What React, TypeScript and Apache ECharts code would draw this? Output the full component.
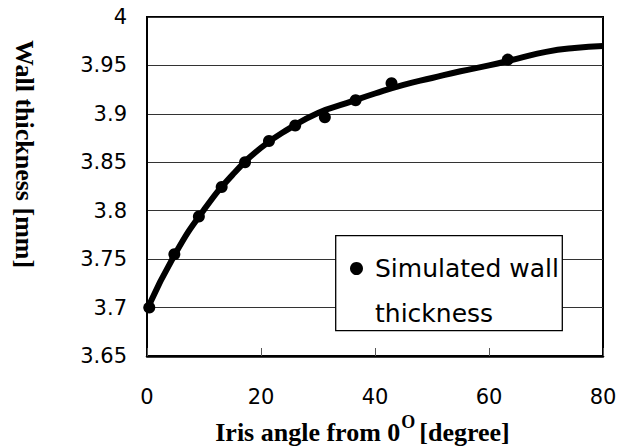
import React, { useEffect, useRef } from "react";
import * as echarts from "echarts";

// Simulated points (iris angle in degrees, wall thickness in mm)
const simAngles = [0.4, 4.8, 9.1, 13.1, 17.2, 21.4, 26.0, 31.2, 36.6, 42.9, 63.3];
const simThickness = [3.7, 3.755, 3.794, 3.8245, 3.85, 3.872, 3.888, 3.8965, 3.914, 3.9317, 3.956];

// Fitted trend curve
const fitAngles = [0, 5, 10, 15, 20, 25, 30, 35, 40, 45, 50, 55, 60, 65, 70, 75, 80];
const fitThickness = [3.698, 3.756, 3.801, 3.837, 3.865, 3.885, 3.901, 3.911, 3.921, 3.93, 3.937, 3.944, 3.95, 3.957, 3.964, 3.968, 3.97];

const legendName = "Simulated wall thickness";
const legendLines = ["Simulated wall", "thickness"];
const xTitleMain = "Iris angle from 0";
const xTitleSup = "O";
const xTitleTail = "[degree]";
const yTitle = "Wall thickness [mm]";

const xMin = 0;
const xMax = 80;
const xStep = 20;
const yMin = 3.65;
const yMax = 4;
const yStep = 0.05;

const sansFont = "DejaVu Sans";
const serifFont = "Liberation Serif";

export default function App() {
  const ref = useRef<HTMLDivElement>(null);

  useEffect(() => {
    if (!ref.current) return;
    const chart = echarts.init(ref.current, null, { renderer: "svg" });
    const titleToken = {
      fontFamily: serifFont,
      fontWeight: "bold",
      fontSize: 26,
      color: "#000",
      lineHeight: 30,
      verticalAlign: "middle",
    };
    const option: any = {
      animation: false,
      backgroundColor: "#fff",
      grid: {
        left: 147,
        right: 27,
        top: 17,
        bottom: 91,
        outerBoundsMode: "none",
        containLabel: false,
        show: true,
        borderColor: "#000",
        borderWidth: 2,
        backgroundColor: "transparent",
      },
      xAxis: {
        type: "value",
        min: xMin,
        max: xMax,
        interval: xStep,
        axisLine: { show: true, lineStyle: { color: "#000", width: 2.5 } },
        axisTick: { show: true, inside: true, length: 8, lineStyle: { color: "#555", width: 1 } },
        axisLabel: { margin: 30, fontSize: 21, fontFamily: sansFont, color: "#000" },
        splitLine: { show: false },
      },
      yAxis: {
        type: "value",
        min: yMin,
        max: yMax,
        interval: yStep,
        axisLine: { show: true, lineStyle: { color: "#000", width: 2 } },
        axisTick: { show: false },
        axisLabel: {
          margin: 20,
          fontSize: 21,
          fontFamily: sansFont,
          color: "#000",
          formatter: (v: number) => String(+v.toFixed(2)),
        },
        splitLine: { show: true, lineStyle: { color: "#333", width: 1 } },
        name: yTitle,
        nameLocation: "middle",
        nameRotate: -90,
        nameGap: 110,
        nameMoveOverlap: false,
        nameTextStyle: {
          fontFamily: serifFont,
          fontWeight: "bold",
          fontSize: 26,
          color: "#000",
          padding: [0, 65, 0, 0],
        },
      },
      legend: {
        data: [legendName],
        left: 350,
        top: 201,
        orient: "vertical",
        padding: 0,
        itemWidth: 13,
        itemHeight: 13,
        icon: "circle",
        z: 6,
        itemStyle: { color: "#000", opacity: 1 },
        formatter: () => "\n" + legendLines.join("\n"),
        textStyle: {
          fontFamily: sansFont,
          fontSize: 25,
          color: "#000",
          lineHeight: 45,
          padding: [0, 0, 0, 7],
        },
      },
      graphic: [
        {
          type: "rect",
          z: 5,
          shape: { x: 335.7, y: 235.7, width: 226.6, height: 95 },
          style: { fill: "#fff", stroke: "#000", lineWidth: 1.3 },
        },
        {
          type: "text",
          z: 5,
          x: 362.5,
          y: 432,
          style: {
            text: `{t|${xTitleMain}}{s|${xTitleSup}}{g|${xTitleTail}}`,
            align: "center",
            verticalAlign: "middle",
            rich: {
              t: titleToken,
              g: { ...titleToken, padding: [0, 0, 0, 4] },
              s: {
                fontFamily: serifFont,
                fontWeight: "bold",
                fontSize: 18,
                color: "#000",
                lineHeight: 18,
                verticalAlign: "middle",
                padding: [0, 0, 21, 1],
              },
            },
          },
        },
      ],
      series: [
        {
          name: "Trend",
          type: "line",
          data: fitAngles.map((a, i) => [a, fitThickness[i]]),
          smooth: true,
          showSymbol: false,
          silent: true,
          z: 2,
          lineStyle: { color: "#000", width: 6 },
        },
        {
          name: legendName,
          type: "scatter",
          data: simAngles.map((a, i) => [a, simThickness[i]]),
          symbol: "circle",
          symbolSize: 12,
          z: 3,
          itemStyle: { color: "#000", opacity: 1 },
        },
      ],
    };
    chart.setOption(option);
    return () => chart.dispose();
  }, []);

  return (
    <div
      ref={ref}
      style={{ position: "fixed", left: 0, top: 0, width: 630, height: 447 }}
    />
  );
}
